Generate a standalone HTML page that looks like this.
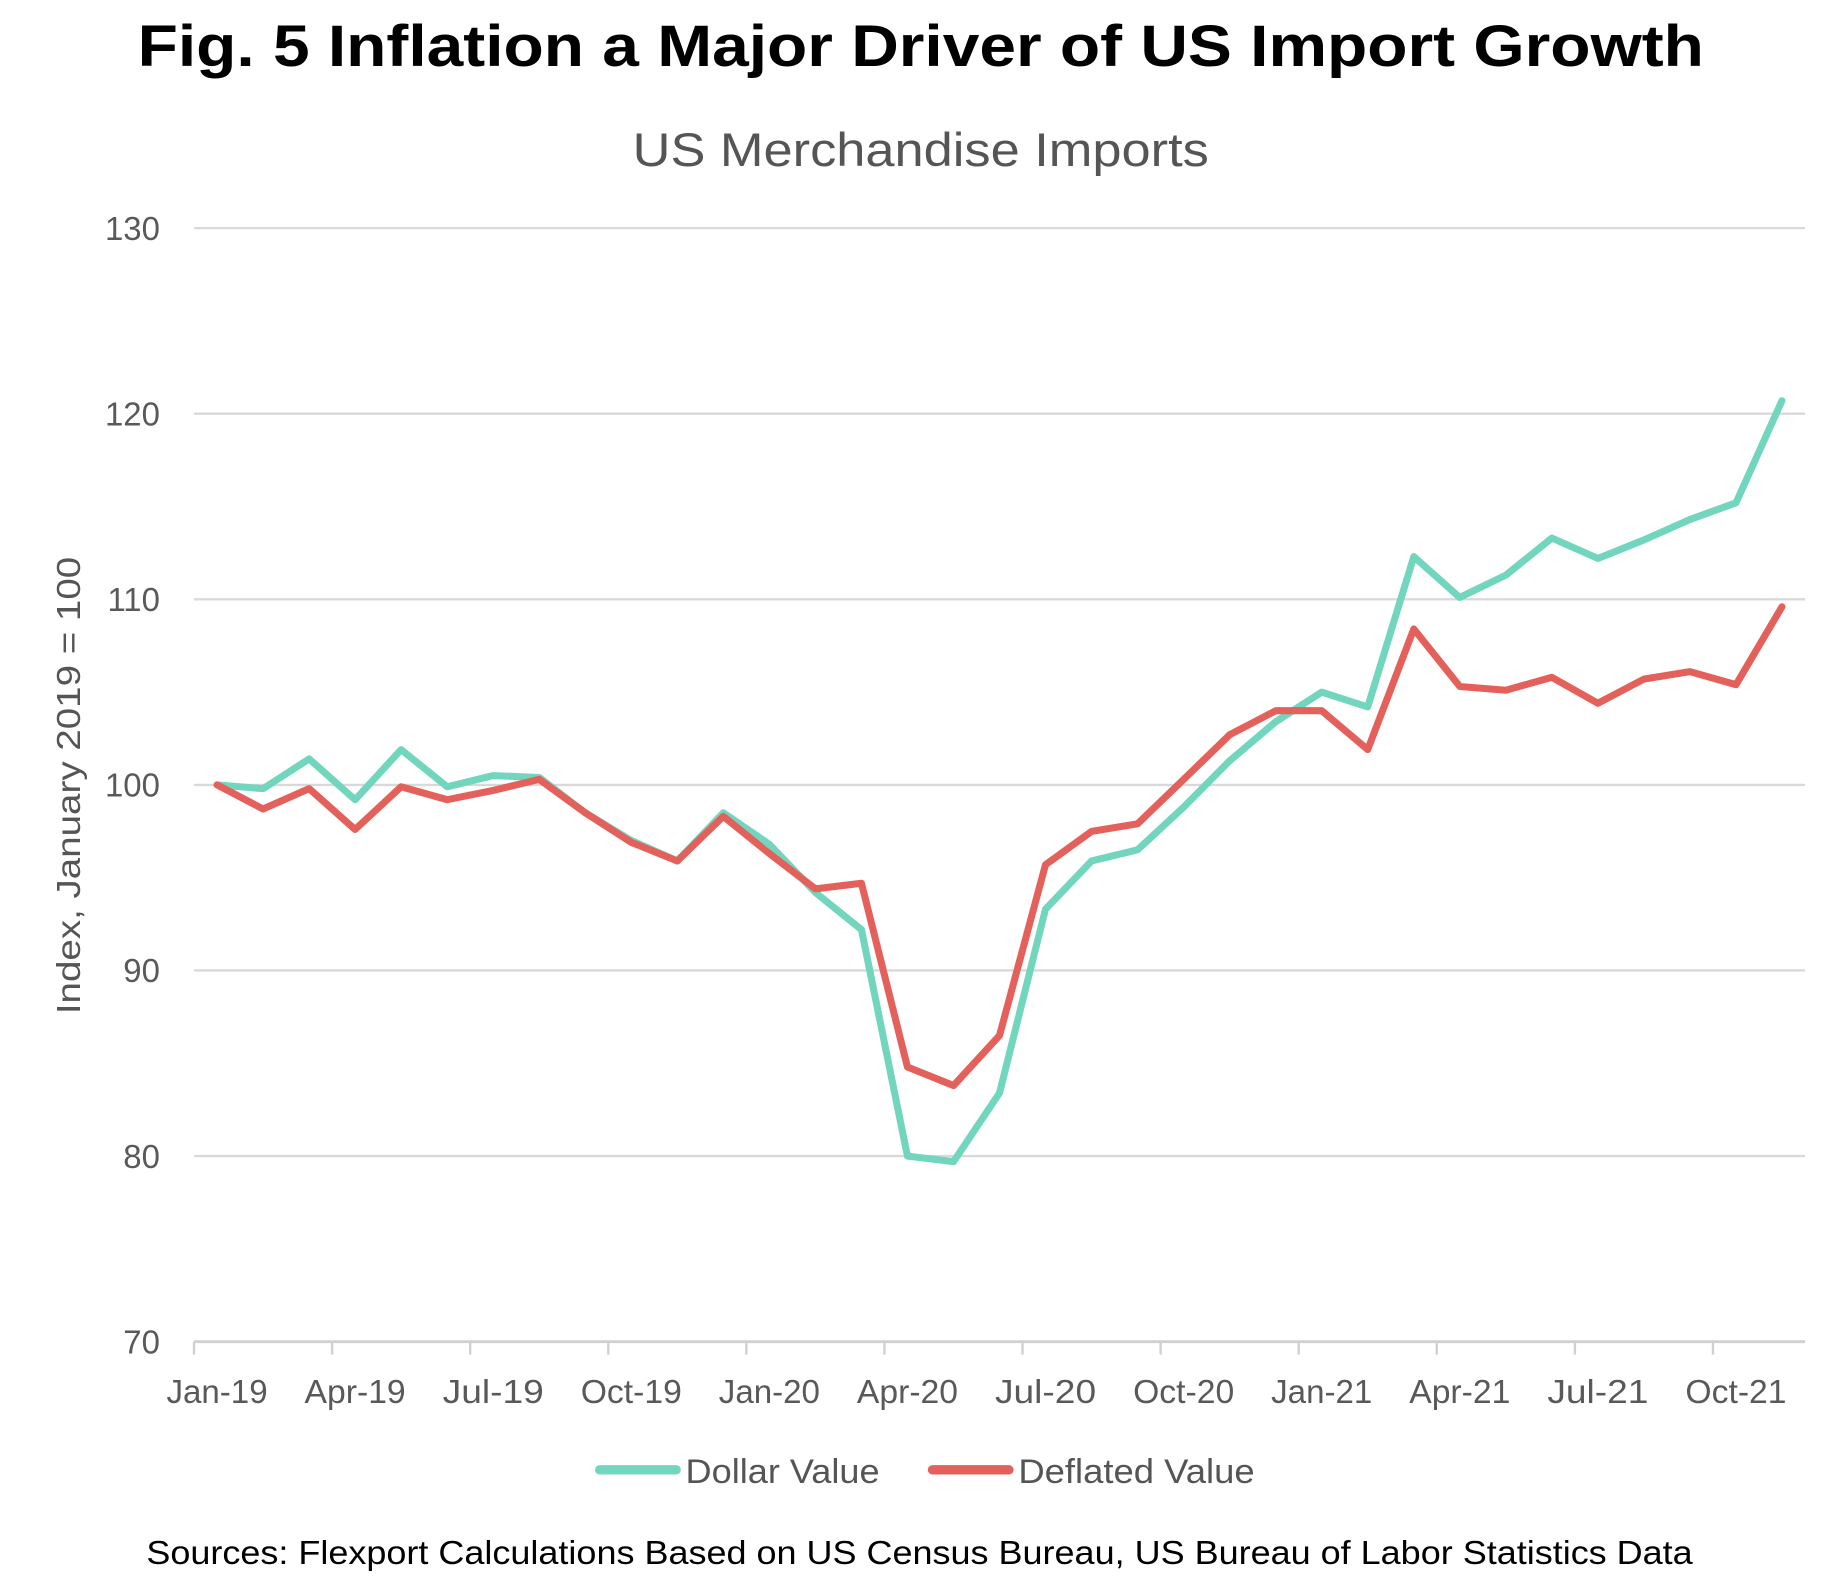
<!DOCTYPE html>
<html><head><meta charset="utf-8"><style>
html,body{margin:0;padding:0;background:#fff;}
svg{display:block;font-family:"Liberation Sans",sans-serif;}
</style></head><body>
<svg id="chart" width="1845" height="1596" viewBox="0 0 1569 1357.3" preserveAspectRatio="none" xmlns="http://www.w3.org/2000/svg">
<text x="783" y="56" text-anchor="middle" font-size="50" font-weight="bold" fill="#000" textLength="1332" lengthAdjust="spacingAndGlyphs">Fig. 5 Inflation a Major Driver of US Import Growth</text>
<text x="783" y="141" text-anchor="middle" font-size="40" fill="#555" textLength="490" lengthAdjust="spacingAndGlyphs">US Merchandise Imports</text>
<text transform="translate(68,668) rotate(-90)" text-anchor="middle" font-size="28" fill="#555" textLength="389" lengthAdjust="spacingAndGlyphs">Index, January 2019 = 100</text>
<g id="grid"></g><g id="yticks"></g><g id="xaxis"></g><g id="series"></g>
<g>
<line x1="510" y1="1250" x2="575" y2="1250" stroke="#72d6bf" stroke-width="8" stroke-linecap="round"/>
<text x="583" y="1261" font-size="29" fill="#555" textLength="165" lengthAdjust="spacingAndGlyphs">Dollar Value</text>
<line x1="793" y1="1250" x2="858" y2="1250" stroke="#e4605a" stroke-width="8" stroke-linecap="round"/>
<text x="866" y="1261" font-size="29" fill="#555" textLength="201" lengthAdjust="spacingAndGlyphs">Deflated Value</text>
</g>
<text x="782" y="1330" text-anchor="middle" font-size="28" fill="#000" textLength="1315" lengthAdjust="spacingAndGlyphs">Sources: Flexport Calculations Based on US Census Bureau, US Bureau of Labor Statistics Data</text>
</svg>
<script>
const months = ["Jan-19","Feb-19","Mar-19","Apr-19","May-19","Jun-19","Jul-19","Aug-19","Sep-19","Oct-19","Nov-19","Dec-19","Jan-20","Feb-20","Mar-20","Apr-20","May-20","Jun-20","Jul-20","Aug-20","Sep-20","Oct-20","Nov-20","Dec-20","Jan-21","Feb-21","Mar-21","Apr-21","May-21","Jun-21","Jul-21","Aug-21","Sep-21","Oct-21","Nov-21"];
const dollarValue = [100,99.8,101.4,99.2,101.9,99.9,100.5,100.4,98.5,97.0,95.9,98.5,96.8,94.2,92.2,80.0,79.7,83.4,93.3,95.9,96.5,98.8,101.3,103.4,105.0,104.2,112.3,110.1,111.3,113.3,112.2,113.2,114.3,115.2,120.7];
const deflatedValue = [100,98.7,99.8,97.6,99.9,99.2,99.7,100.3,98.5,96.9,95.9,98.3,96.3,94.4,94.7,84.8,83.8,86.5,95.7,97.5,97.9,100.3,102.7,104.0,104.0,101.9,108.4,105.3,105.1,105.8,104.4,105.7,106.1,105.4,109.6];
const yTicks = [70,80,90,100,110,120,130];
const xTickLabels = ["Jan-19","Apr-19","Jul-19","Oct-19","Jan-20","Apr-20","Jul-20","Oct-20","Jan-21","Apr-21","Jul-21","Oct-21"];

const NS="http://www.w3.org/2000/svg";
const L=165,R=1535,T=194,B=1141,yMin=70,yMax=130;
const band=(R-L)/months.length;
function xPos(i){return L+band*(i+0.5);}
function yPos(v){return B-(v-yMin)/(yMax-yMin)*(B-T);}
function mk(tag,attrs,parent){const e=document.createElementNS(NS,tag);for(const k in attrs)e.setAttribute(k,attrs[k]);parent.appendChild(e);return e;}
const grid=document.getElementById('grid'),yt=document.getElementById('yticks'),xa=document.getElementById('xaxis'),se=document.getElementById('series');
yTicks.forEach(v=>{
  const g=mk('line',{x1:L,x2:R,y1:yPos(v),y2:yPos(v),stroke:v===yMin?'#d0d0d0':'#d9d9d9','stroke-width':v===yMin?2.5:2},grid);
  
  
  const t=mk('text',{x:136,y:yPos(v)+10,'text-anchor':'end','font-size':28,fill:'#595959'},yt);
  t.textContent=v;
  
  
});
xTickLabels.forEach(lab=>{
  const i=months.indexOf(lab);
  const tx=L+band*i;
  const tk=mk('line',{x1:tx,x2:tx,y1:B,y2:B+11,stroke:'#d0d0d0','stroke-width':2},xa);
  
  
  const t=mk('text',{x:xPos(i),y:B+52,'text-anchor':'middle','font-size':28,fill:'#595959',textLength:lab.length>=6?86:78,lengthAdjust:'spacingAndGlyphs'},xa);
  t.textContent=lab;
  
  
});
function drawLine(vals,color,name){
  const d=vals.map((v,i)=>(i?'L':'M')+xPos(i).toFixed(1)+','+yPos(v).toFixed(1)).join(' ');
  const p=mk('path',{d:d,fill:'none',stroke:color,'stroke-width':6,'stroke-linejoin':'round','stroke-linecap':'round'},se);
  
  
}
drawLine(dollarValue,'#72d6bf','dollar-value-line');
drawLine(deflatedValue,'#e4605a','deflated-value-line');
</script>
</body></html>
